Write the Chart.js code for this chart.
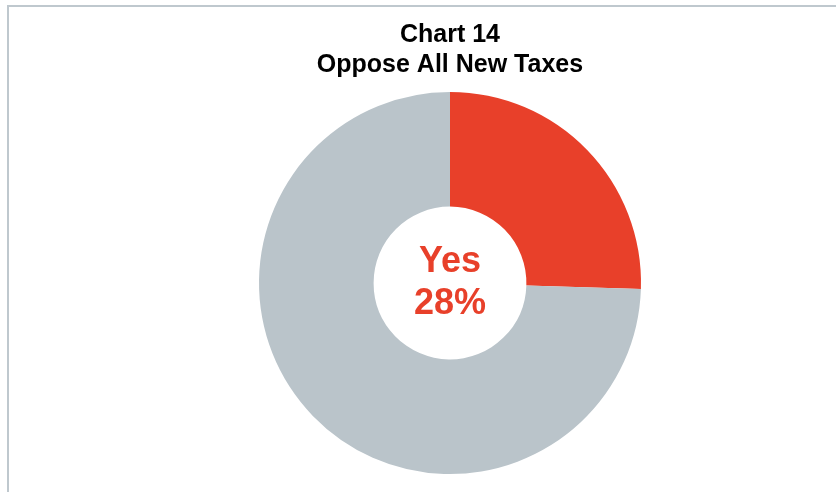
<!DOCTYPE html>
<html>
<head>
<meta charset="utf-8">
<script src="https://cdn.jsdelivr.net/npm/chart.js@4/dist/chart.umd.min.js"></script>
<style>
  html, body { margin: 0; padding: 0; background: #fff; }
  #wrap { position: relative; width: 836px; height: 492px; }
  #frame {
    position: absolute; left: 7px; top: 5px; right: 0; bottom: 0;
    border-top: 2px solid #bfc8ce; border-left: 2px solid #bfc8ce;
    pointer-events: none;
  }
</style>
</head>
<body>
<div id="wrap">
  <canvas id="pie" width="836" height="492"></canvas>
  <div id="frame"></div>
</div>
<script>
const titleLines = ['Chart 14', 'Oppose All New Taxes'];
const categories = ['Yes', 'No'];
const shares = [25.5, 74.5];
const centerLines = ['Yes', '28%'];
const colors = ['#e8402a', '#bac4ca'];

const centerText = {
  id: 'centerText',
  afterDraw(chart) {
    const meta = chart.getDatasetMeta(0).data[0];
    const ctx = chart.ctx;
    ctx.save();
    ctx.fillStyle = '#e8402a';
    ctx.font = 'bold 36px "Liberation Sans", Arial, sans-serif';
    ctx.textAlign = 'center';
    ctx.textBaseline = 'middle';
    ctx.fillText(centerLines[0], meta.x, meta.y - 21);
    ctx.fillText(centerLines[1], meta.x, meta.y + 21);
    ctx.restore();
  }
};

new Chart(document.getElementById('pie'), {
  type: 'doughnut',
  data: {
    labels: categories,
    datasets: [{
      data: shares,
      backgroundColor: colors,
      borderWidth: 0
    }]
  },
  options: {
    responsive: false,
    animation: false,
    cutout: '40%',
    events: [],
    layout: { padding: { left: 64, right: 0, top: 18, bottom: 18 } },
    plugins: {
      legend: { display: false },
      tooltip: { enabled: false },
      title: {
        display: true,
        text: titleLines,
        color: '#000',
        font: { family: '"Liberation Sans", Arial, sans-serif', size: 25, weight: 'bold', lineHeight: 1.2 },
        padding: { top: 2, bottom: 12 }
      }
    }
  },
  plugins: [centerText]
});
</script>
</body>
</html>
